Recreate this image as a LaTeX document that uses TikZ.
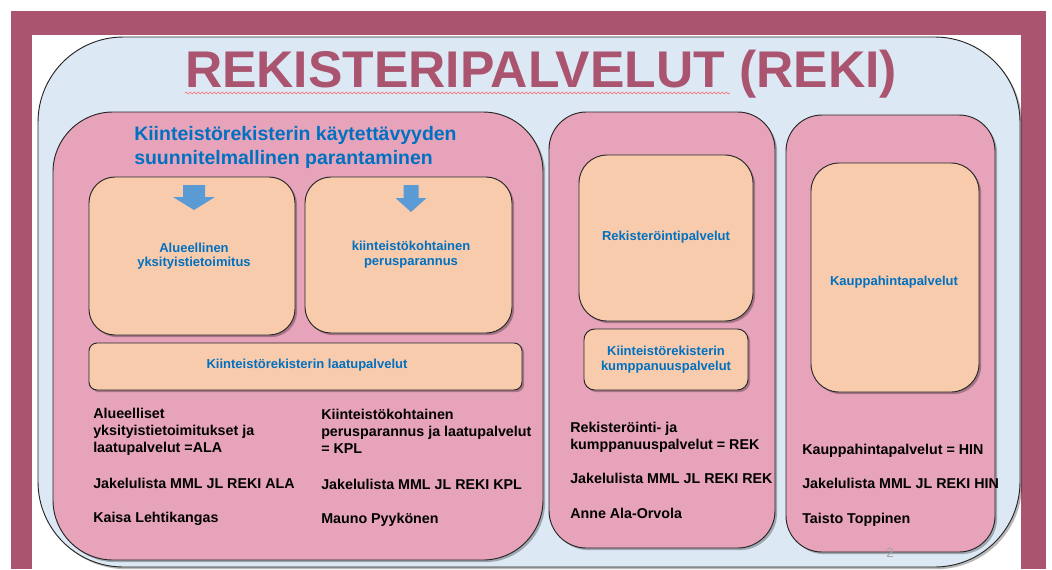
\documentclass[tikz,border=0pt]{standalone}
\usepackage{fontspec}
\setmainfont{Liberation Sans}
\usetikzlibrary{fit,shadows,decorations.pathmorphing}
\definecolor{mauve}{RGB}{170,84,112}
\definecolor{skyback}{RGB}{220,232,244}
\definecolor{pinkbox}{RGB}{230,163,186}
\definecolor{peach}{RGB}{248,203,173}
\definecolor{textblue}{RGB}{0,112,192}
\definecolor{arrowblue}{RGB}{91,155,213}
\definecolor{edge}{RGB}{38,38,38}
\tikzset{
  boxbase/.style={draw=edge, line width=0.7pt, inner sep=0pt,
    drop shadow={shadow xshift=1.6pt, shadow yshift=-1.6pt, opacity=0.28, fill=black}},
  outerbox/.style={boxbase, fill=skyback, rounded corners=64pt},
  groupbox/.style={boxbase, fill=pinkbox},
  itembox/.style={boxbase, fill=peach},
  itemtext/.style={inner sep=0pt, text=textblue, align=center,
    font=\bfseries\fontsize{9.75}{11}\selectfont},
  infotext/.style={inner sep=0pt, align=left, text=black,
    font=\bfseries\fontsize{10.7}{12.9}\selectfont},
  infoblock/.style={infotext, anchor=north west},
  infoline/.style={infotext, anchor=base west},
  downarrow/.style={fill=arrowblue},
}
\begin{document}
\begin{tikzpicture}[x=0.75pt,y=-0.75pt]
\useasboundingbox (0,0) rectangle (1052,569);
% frame
\fill[white] (0,0) rectangle (1052,569);
\fill[mauve] (11,11) rectangle (1046,569);
\fill[white] (32,35) rectangle (1021,569);
% outer container
\node[outerbox, fit={(38,37) (1020,567)}] (outer) {};
% title
\node[anchor=base, inner sep=0pt, text=mauve, font=\bfseries\fontsize{38.7}{41}\selectfont] (title) at (541,87.5) {REKISTERIPALVELUT (REKI)};
\draw[red!55, line width=0.5pt, decorate, decoration={snake, amplitude=0.7pt, segment length=3pt}] (185,93) -- (730,93);
% group boxes
\node[groupbox, rounded corners=45pt, fit={(53,112) (543,560)}] (left) {};
\node[groupbox, rounded corners=28pt, fit={(549,112) (775,548)}] (mid) {};
\node[groupbox, rounded corners=27pt, fit={(786,115) (995,552)}] (right) {};
% heading
\node[anchor=north west, inner sep=0pt, align=left, text=textblue, font=\bfseries\fontsize{14.6}{18}\selectfont] (heading) at (134,126) {Kiinteistörekisterin käytettävyyden\\suunnitelmallinen parantaminen};
% item boxes
\node[itembox, rounded corners=19.5pt, fit={(89,177) (295,335)}] (ala) {};
\node[itembox, rounded corners=19.5pt, fit={(305,177) (512,333)}] (kpl) {};
\node[itembox, rounded corners=6pt, fit={(89,343) (522,390)}] (laatu) {};
\node[itembox, rounded corners=21pt, fit={(579,155) (753,321)}] (rek) {};
\node[itembox, rounded corners=8pt, fit={(584,329) (748,390)}] (kump) {};
\node[itembox, rounded corners=21pt, fit={(811,163) (979,392)}] (hin) {};
% item texts
\node[itemtext] (alatext) at (194,256) {Alueellinen\\yksityistietoimitus};
\node[itemtext] (kpltext) at (411,254.5) {kiinteistökohtainen\\perusparannus};
\node[itemtext] (laatutext) at (307,365.5) {Kiinteistörekisterin laatupalvelut};
\node[itemtext] (rektext) at (666,237.5) {Rekisteröintipalvelut};
\node[itemtext] (kumptext) at (666,359.5) {Kiinteistörekisterin\\kumppanuuspalvelut};
\node[itemtext] (hintext) at (894,282.5) {Kauppahintapalvelut};
% block arrows
\fill[downarrow] (183,185) -- (205,185) -- (205,197) -- (215,197) -- (194,210) -- (173,197) -- (183,197) -- cycle;
\fill[downarrow] (403.5,185) -- (418.5,185) -- (418.5,198) -- (426.5,198) -- (411,212) -- (395.5,198) -- (403.5,198) -- cycle;
% info texts, column 1
\node[infoblock] (t1a) at (93,407.5) {Alueelliset\\yksityistietoimitukset ja\\laatupalvelut =ALA};
\node[infoline] (t1b) at (93,488) {Jakelulista MML JL REKI ALA};
\node[infoline] (t1c) at (93,522.5) {Kaisa Lehtikangas};
% column 2
\node[infoblock] (t2a) at (321,408.5) {Kiinteistökohtainen\\perusparannus ja laatupalvelut\\= KPL};
\node[infoline] (t2b) at (321,489) {Jakelulista MML JL REKI KPL};
\node[infoline] (t2c) at (321,523) {Mauno Pyykönen};
% column 3
\node[infoblock] (t3a) at (570,421.5) {Rekisteröinti- ja\\kumppanuuspalvelut = REK};
\node[infoline] (t3b) at (570,483) {Jakelulista MML JL REKI REK};
\node[infoline] (t3c) at (570,518) {Anne Ala-Orvola};
% column 4
\node[infoline] (t4a) at (802,454) {Kauppahintapalvelut = HIN};
\node[infoline] (t4b) at (802,488) {Jakelulista MML JL REKI HIN};
\node[infoline] (t4c) at (802,523) {Taisto Toppinen};
% page number
\node[text=black!35, font=\fontsize{10}{11}\selectfont, inner sep=0pt] (pagenum) at (890,553) {2};
\end{tikzpicture}
\end{document}
